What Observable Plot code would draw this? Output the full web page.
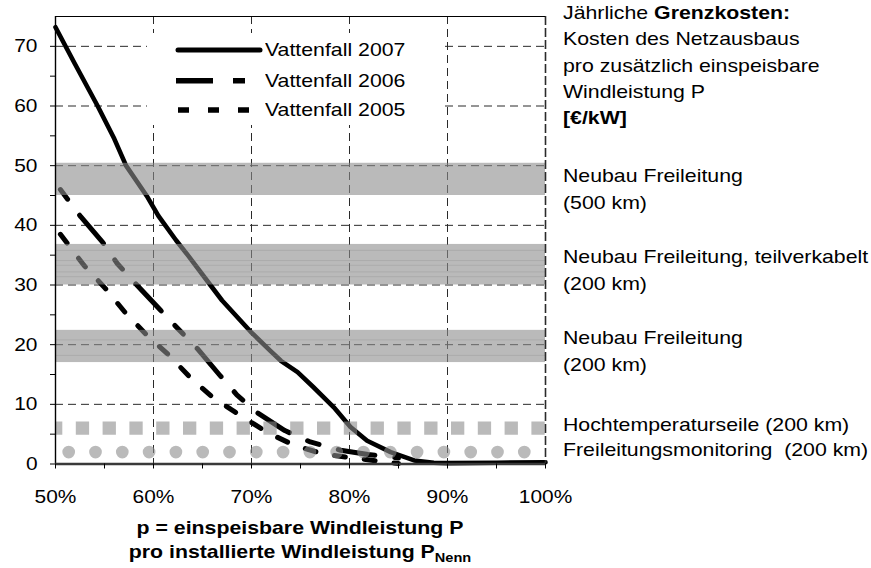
<!DOCTYPE html>
<html><head><meta charset="utf-8">
<script src="https://cdn.jsdelivr.net/npm/d3@7"></script>
<script src="https://cdn.jsdelivr.net/npm/@observablehq/plot@0.6"></script>
<style>
html,body{margin:0;padding:0;background:#fff;}
#wrap{position:relative;width:871px;height:568px;overflow:hidden;font-family:'Liberation Sans',Arial,sans-serif;color:#000;}
#wrap > svg{position:absolute;left:0;top:0;}
.t{position:absolute;white-space:nowrap;font-size:19px;line-height:26px;height:26px;transform:scaleX(1.12);transform-origin:0 50%;}
.c{transform-origin:50% 50%;text-align:center;font-weight:bold;}
#legend{position:absolute;left:147px;top:33px;width:293px;height:92px;background:#fff;}
</style></head><body><div id="wrap"></div>
<script>
// ---------- data ----------
const xDomain = [50, 100];
const yDomain = [0, 75];
const xMajorTicks = [50, 60, 70, 80, 90, 100];
const xMinorTicks = [55, 65, 75, 85, 95];
const yMajorTicks = [0, 10, 20, 30, 40, 50, 60, 70];
const yMinorTicks = [5, 15, 25, 35, 45, 55, 65];
const xGrid = [60, 70, 80, 90];
const yGrid = [10, 20, 30, 40, 50, 60, 70];

const seriesNames = ["Vattenfall 2007", "Vattenfall 2006", "Vattenfall 2005"];
const p2007 = [50, 52, 54.3, 56, 57.2, 59.4, 60.5, 62.3, 63.5, 65.8, 67, 69.9, 71.9, 73, 74.7, 76.3, 78.4, 80.1, 81.8, 84.2, 86.6, 88.6, 90, 95, 100];
const v2007 = [73.2, 67, 60, 54.5, 50, 44.7, 41.6, 37.5, 35, 30, 27.4, 22.2, 19, 17.3, 15.4, 12.9, 9.5, 6.2, 3.9, 2.0, 0.6, 0.2, 0.15, 0.2, 0.3];
const p2006 = [50.5, 52.6, 54.8, 56.3, 58.3, 60.7, 62.6, 64.5, 66.7, 68.5, 70.5, 73.4, 76, 79.1, 81.9, 85];
const v2006 = [46, 41.4, 37.2, 33.6, 30, 25.8, 22.5, 19.3, 15, 11.6, 8.7, 5.6, 3.7, 2.3, 1.6, 1.0];
const p2005 = [50.5, 52.9, 55.1, 57.1, 59.2, 61.6, 63.8, 66.1, 68.9, 71.6, 74.4, 77.5, 80.5, 83.7, 85];
const v2005 = [38.5, 33.3, 29.4, 25.4, 21.8, 18.2, 14.4, 11.1, 8.1, 5.3, 3.1, 1.6, 1.0, 0.3, 0.1];

const bandLow = [45, 30, 17];
const bandHigh = [50.4, 36.8, 22.4];
const bandTexture = [35.8, 34.1, 33.3, 32.2, 31.4, 20.8, 18.2];
const squaresLevel = [6];
const circlesLevel = [2];

const headerLines = ["Kosten des Netzausbaus", "pro zusätzlich einspeisbare", "Windleistung P"];
const bandLabels = ["Neubau Freileitung", "(500 km)", "Neubau Freileitung, teilverkabelt", "(200 km)", "Neubau Freileitung", "(200 km)", "Hochtemperaturseile (200 km)", "Freileitungsmonitoring\u00a0 (200 km)"];

// ---------- build ----------
const toRows = (p, v) => p.map((d, i) => ({p: d, v: v[i]}));
const d2007 = toRows(p2007, v2007), d2006 = toRows(p2006, v2006), d2005 = toRows(p2005, v2005);
const bands = bandLow.map((lo, i) => ({lo, hi: bandHigh[i]}));
const grey = "#8c8c8c", greyOp = 0.6;
const gridStyle = {stroke: "#2a2a2a", strokeWidth: 1, strokeDasharray: "8,5"};

const chart = Plot.plot({
  width: 871, height: 568,
  marginLeft: 55, marginRight: 326, marginTop: 16, marginBottom: 104.5,
  x: {domain: xDomain},
  y: {domain: yDomain},
  style: {fontFamily: "'Liberation Sans', Arial, sans-serif", fontSize: "19px", color: "#000", background: "transparent", overflow: "visible"},
  marks: [
    Plot.ruleX(xGrid, gridStyle),
    Plot.ruleY(yGrid, gridStyle),
    Plot.line(d2005, {x: "p", y: "v", stroke: "#000", strokeWidth: 5, strokeDasharray: "11,19"}),
    Plot.line(d2006, {x: "p", y: "v", stroke: "#000", strokeWidth: 5, strokeDasharray: "37,20,12,20", strokeDashoffset: 57}),
    Plot.line(d2007, {x: "p", y: "v", stroke: "#000", strokeWidth: 4.6, strokeLinejoin: "round"}),
    Plot.rect(bands, {x1: xDomain[0], x2: xDomain[1], y1: "lo", y2: "hi", fill: grey, fillOpacity: greyOp}),
    Plot.ruleY(bandTexture, {stroke: "#7a7a7a", strokeOpacity: 0.22, strokeWidth: 1}),
    Plot.ruleY(squaresLevel, {stroke: grey, strokeOpacity: greyOp, strokeWidth: 13.3, strokeDasharray: "13.3,13.5", strokeDashoffset: 6}),
    Plot.ruleY(circlesLevel, {stroke: grey, strokeOpacity: greyOp, strokeWidth: 12.7, strokeLinecap: "round", strokeDasharray: "0,26.8", strokeDashoffset: 13.1}),
    Plot.ruleX([xDomain[1]], {stroke: "#2a2a2a", strokeWidth: 1.6, strokeDasharray: "9,3"}),
    Plot.ruleY([yDomain[1]], {stroke: "#000", strokeWidth: 1.2}),
    Plot.ruleX([xDomain[0]], {stroke: "#000", strokeWidth: 1.4}),
    Plot.ruleY([yDomain[0]], {stroke: "#3a3a3a", strokeWidth: 2.6}),
    Plot.axisY(yMajorTicks, {tickSize: 5, tickPadding: 13, label: null, stroke: "#000"}),
    Plot.axisY(yMinorTicks, {tickSize: 5, tickFormat: () => "", label: null, stroke: "#000"}),
    Plot.axisX(xMajorTicks, {tickSize: 5, tickPadding: 20, tickFormat: d => d + "%", label: null, stroke: "#000"}),
    Plot.axisX(xMinorTicks, {tickSize: 5, tickFormat: () => "", label: null, stroke: "#000"})
  ]
});

const wrap = document.getElementById("wrap");
wrap.appendChild(chart);
// widen tick labels slightly (the reference type is horizontally stretched), keeping their anchor
chart.querySelectorAll("text").forEach(t => {
  const L = t.getComputedTextLength();
  if (!(L > 0)) return;
  const b0 = t.getBBox();
  const anchor = getComputedStyle(t).textAnchor || t.getAttribute("text-anchor") || (t.parentNode && t.parentNode.getAttribute("text-anchor")) || "start";
  t.setAttribute("textLength", (L * 1.1).toFixed(2));
  t.setAttribute("lengthAdjust", "spacingAndGlyphs");
  const b1 = t.getBBox();
  let shift = 0;
  if (anchor === "end") shift = (b0.x + b0.width) - (b1.x + b1.width);
  else if (anchor === "middle") shift = (b0.x + b0.width / 2) - (b1.x + b1.width / 2);
  else shift = b0.x - b1.x;
  if (Math.abs(shift) > 0.01) {
    const g = document.createElementNS("http://www.w3.org/2000/svg", "g");
    g.setAttribute("transform", `translate(${shift.toFixed(2)},0)`);
    t.parentNode.insertBefore(g, t);
    g.appendChild(t);
  }
});

function addText(html, left, centerY, cls) {
  const d = document.createElement("div");
  d.className = "t" + (cls ? " " + cls : "");
  d.innerHTML = html;
  d.style.left = left + "px";
  d.style.top = (centerY - 13) + "px";
  wrap.appendChild(d);
  return d;
}

// legend
const legend = document.createElement("div");
legend.id = "legend";
legend.innerHTML = `<svg width="293" height="92" style="position:absolute;left:0;top:0">
  <line x1="31" x2="113" y1="17" y2="17" stroke="#000" stroke-width="5" stroke-linecap="round"/>
  <line x1="29" x2="101" y1="47.7" y2="47.7" stroke="#000" stroke-width="5.5" stroke-dasharray="37,20,12,20"/>
  <line x1="31" x2="103" y1="77" y2="77" stroke="#000" stroke-width="5.5" stroke-dasharray="11,19"/>
</svg>`;
wrap.appendChild(legend);
addText(seriesNames[0], 265, 50);
addText(seriesNames[1], 265, 81);
addText(seriesNames[2], 265, 110);

// right-hand annotation
addText("Jährliche <b>Grenzkosten:</b>", 563, 13);
headerLines.forEach((s, i) => addText(s, 563, 39 + i * 26.5));
addText("<b>[€/kW]</b>", 563, 118);
const bandLabelY = [176, 203, 257, 284, 338, 365, 425, 450];
bandLabels.forEach((s, i) => addText(s, 563, bandLabelY[i]));

// x-axis title
const t1 = addText("p = einspeisbare Windleistung P", 0, 528, "c");
t1.style.width = "600px"; t1.style.left = "0px";
const t2 = addText("pro installierte Windleistung P<sub style=\"font-size:13px;vertical-align:-4px;line-height:0\">Nenn</sub>", 0, 552, "c");
t2.style.width = "600px"; t2.style.left = "0px";
</script></body></html>
